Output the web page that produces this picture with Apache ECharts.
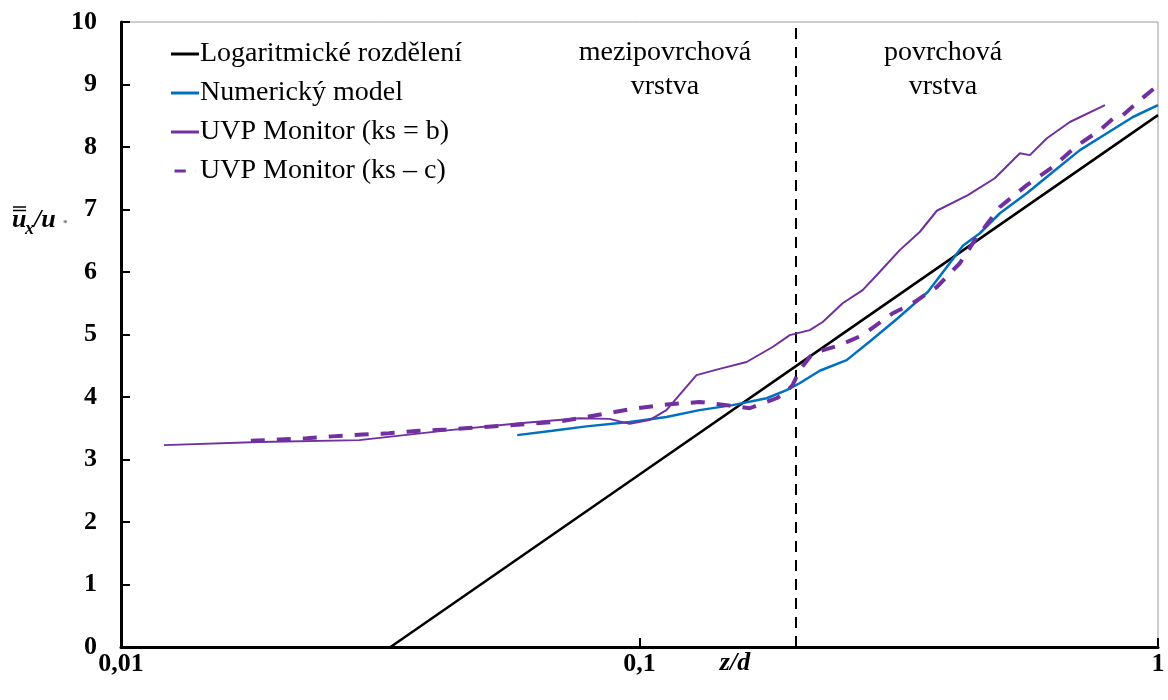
<!DOCTYPE html>
<html>
<head>
<meta charset="utf-8">
<script src="https://cdn.jsdelivr.net/npm/echarts@6/dist/echarts.min.js"></script>
<style>html,body{margin:0;padding:0;background:#fff;}#c{width:1168px;height:700px;}</style>
</head>
<body>
<div id="c"></div>
<script>
// ---- data (z/d, u/u*) ----
const seriesNames = ['Logaritmické rozdělení', 'Numerický model', 'UVP Monitor (ks = b)', 'UVP Monitor (ks – c)'];
const logLaw = [[0.0331,0],[0.1,2.76],[0.2,4.49],[1,8.51]];
const numModel = [[0.0581,3.39],[0.0679,3.46],[0.0790,3.53],[0.0957,3.60],[0.1127,3.68],[0.1305,3.79],[0.1512,3.87],[0.1759,3.98],[0.1922,4.11],[0.2036,4.22],[0.2226,4.42],[0.2509,4.59],[0.2792,4.90],[0.3148,5.26],[0.3597,5.68],[0.3915,6.08],[0.4204,6.42],[0.4533,6.62],[0.4955,6.94],[0.5585,7.26],[0.6269,7.60],[0.7069,7.95],[0.7970,8.22],[0.8947,8.48],[1.0,8.67]];
const uvpB = [[0.0121,3.23],[0.0185,3.28],[0.0288,3.31],[0.0430,3.47],[0.0587,3.58],[0.0766,3.66],[0.0875,3.65],[0.0957,3.57],[0.1045,3.63],[0.1127,3.79],[0.1288,4.35],[0.1427,4.45],[0.1609,4.56],[0.1806,4.80],[0.1949,4.99],[0.2130,5.07],[0.2256,5.20],[0.2465,5.50],[0.2694,5.71],[0.2905,6.00],[0.3176,6.35],[0.3471,6.64],[0.3745,6.98],[0.4298,7.23],[0.4844,7.50],[0.5416,7.90],[0.5661,7.87],[0.6107,8.14],[0.6761,8.40],[0.7901,8.67]];
const uvpC = [[0.0178,3.30],[0.0202,3.32],[0.0228,3.34],[0.0255,3.37],[0.0292,3.40],[0.0329,3.42],[0.0376,3.46],[0.0424,3.48],[0.0484,3.51],[0.0544,3.54],[0.0613,3.57],[0.0701,3.61],[0.0790,3.68],[0.0895,3.76],[0.0969,3.81],[0.1127,3.88],[0.1305,3.92],[0.1472,3.87],[0.1631,3.82],[0.1838,3.98],[0.1905,4.06],[0.1974,4.19],[0.2036,4.43],[0.2158,4.70],[0.2432,4.83],[0.2694,4.99],[0.3079,5.34],[0.3365,5.50],[0.3745,5.76],[0.4148,6.14],[0.4433,6.51],[0.4955,7.04],[0.5585,7.39],[0.6269,7.68],[0.6976,8.02],[0.7727,8.27],[0.8333,8.51],[0.8558,8.51],[0.9232,8.75],[1.0,8.99]];
const layerBoundary = 0.2;
const xTickLabels = {'0.01':'0,01','0.1':'0,1','1':'1'};
const regionLabels = ['mezipovrchová\nvrstva', 'povrchová\nvrstva'];

const FONT = 'Liberation Serif';
const chart = echarts.init(document.getElementById('c'), null, {renderer:'canvas'});
const purple = '#7030A0', blue = '#0070C0';
const solidIcon = 'path://M0,0H28V3H0Z';
const dashIcon = 'path://M0,0H15V4H0Z M27.9,0H28V4H27.9Z';

chart.setOption({
  animation:false,
  backgroundColor:'#fff',
  grid:{left:121, right:10, top:22, bottom:53, show:true, borderColor:'#9a9a9a', borderWidth:1},
  legend:{
    orient:'vertical', left:166, top:35, itemGap:11, itemWidth:28, itemHeight:3,
    textStyle:{fontFamily:FONT, fontSize:28, color:'#000', lineHeight:28, padding:[0,0,0,-4]},
    data:[
      {name:seriesNames[0], icon:solidIcon},
      {name:seriesNames[1], icon:solidIcon},
      {name:seriesNames[2], icon:solidIcon},
      {name:seriesNames[3], icon:dashIcon}
    ]
  },
  xAxis:{
    type:'log', logBase:10, min:0.01, max:1,
    axisLine:{lineStyle:{color:'#000', width:3}},
    axisTick:{inside:true, length:9, lineStyle:{color:'#000', width:2}},
    minorTick:{show:false},
    splitLine:{show:false},
    axisLabel:{fontFamily:FONT, fontWeight:'bold', fontSize:26, color:'#000', margin:4,
      formatter:v=>{const k=String(+(+v).toPrecision(6)); return xTickLabels[k]!==undefined?xTickLabels[k]:k.replace('.',',');}}
  },
  yAxis:{
    type:'value', min:0, max:10, interval:1,
    axisLine:{show:true, lineStyle:{color:'#000', width:3}},
    axisTick:{show:true, inside:true, length:9, lineStyle:{color:'#000', width:2}},
    splitLine:{show:false},
    axisLabel:{fontFamily:FONT, fontWeight:'bold', fontSize:26, color:'#000', margin:24}
  },
  graphic:[
    {type:'text', x:665, y:70, style:{text:regionLabels[0], font:'28px "Liberation Serif"', fill:'#000', align:'center', verticalAlign:'middle', lineHeight:34}, z:10},
    {type:'text', x:943, y:70, style:{text:regionLabels[1], font:'28px "Liberation Serif"', fill:'#000', align:'center', verticalAlign:'middle', lineHeight:34}, z:10},
    {type:'text', x:735, y:663, style:{text:'z/d', font:'italic bold 26px "Liberation Serif"', fill:'#000', align:'center', verticalAlign:'middle'}},
    // y axis name  ū̿x/u*
    {type:'text', x:12, y:220, style:{text:'u', font:'italic bold 26px "Liberation Serif"', fill:'#000', align:'left', verticalAlign:'middle'}},
    {type:'line', shape:{x1:13, y1:207, x2:26, y2:207}, style:{stroke:'#000', lineWidth:1.5}},
    {type:'line', shape:{x1:13, y1:210.5, x2:26, y2:210.5}, style:{stroke:'#000', lineWidth:1.5}},
    {type:'text', x:25, y:229, style:{text:'x', font:'italic bold 18px "Liberation Serif"', fill:'#000', align:'left', verticalAlign:'middle'}},
    {type:'text', x:34, y:220, style:{text:'/u', font:'italic bold 26px "Liberation Serif"', fill:'#000', align:'left', verticalAlign:'middle'}},
    {type:'text', x:63, y:224, style:{text:'*', font:'bold 9px "Liberation Serif"', fill:'#666', align:'left', verticalAlign:'middle'}}
  ],
  series:[
    {name:seriesNames[0], type:'line', data:logLaw, symbol:'none', lineStyle:{color:'#000', width:2.5}, itemStyle:{color:'#000'}, z:3,
      markLine:{silent:true, symbol:'none', label:{show:false}, lineStyle:{color:'#000', width:2, type:[11,8]}, data:[{xAxis:layerBoundary}]}},
    {name:seriesNames[1], type:'line', data:numModel, symbol:'none', lineStyle:{color:blue, width:2.5}, itemStyle:{color:blue}, z:4},
    {name:seriesNames[2], type:'line', data:uvpB, symbol:'none', lineStyle:{color:purple, width:2}, itemStyle:{color:purple}, z:5},
    {name:seriesNames[3], type:'line', data:uvpC, symbol:'none', lineStyle:{color:purple, width:4, type:[14,12]}, itemStyle:{color:purple}, z:5}
  ]
});
</script>
</body>
</html>
